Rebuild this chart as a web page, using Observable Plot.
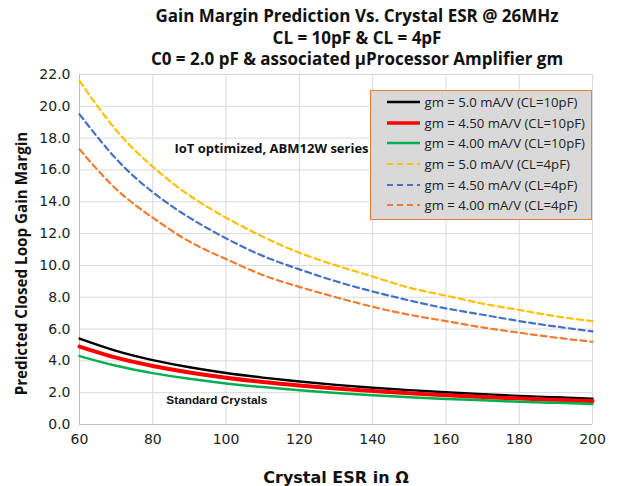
<!DOCTYPE html>
<html>
<head>
<meta charset="utf-8">
<script src="https://cdn.jsdelivr.net/npm/d3@7"></script>
<script src="https://cdn.jsdelivr.net/npm/@observablehq/plot@0.6"></script>
<style>
  body { margin: 0; background: #fff; font-family: "Open Sans", sans-serif; }
  #wrap { position: relative; width: 617px; height: 486px; overflow: hidden; }
  #title { height: 64px; margin-left: 97px; width: 520px; text-align: center; font-weight: bold; font-size: 17px; line-height: 21.5px; padding-top: 5px; box-sizing: border-box; color: #111; white-space: nowrap; }
  #legend { position: absolute; left: 370px; top: 90px; width: 222px; height: 130px; box-sizing: border-box; background: #d9d9d9; border: 1.5px solid #ed7d31; padding-top: 1px; }
  .row { height: 20.6px; display: flex; align-items: center; font-size: 13.2px; color: #222; white-space: nowrap; }
  .row svg { margin-left: 15.5px; margin-right: 5px; flex: none; }
</style>
</head>
<body>
<div id="wrap">
  <div id="title"></div>
  <div id="chart"></div>
  <div id="legend"></div>
</div>
<script>
const titleLines = [
  "Gain Margin Prediction Vs. Crystal ESR @ 26MHz",
  "CL = 10pF & CL = 4pF",
  "C0 = 2.0 pF & associated µProcessor Amplifier gm"
];
const xTicks = [60, 80, 100, 120, 140, 160, 180, 200];
const yTicks = [0, 2, 4, 6, 8, 10, 12, 14, 16, 18, 20, 22];
const esr = [60, 70, 80, 90, 100, 110, 120, 130, 140, 150, 160, 170, 180, 190, 200];

const gm50_10 = [5.4, 4.63, 4.05, 3.6, 3.24, 2.95, 2.7, 2.49, 2.31, 2.16, 2.03, 1.91, 1.8, 1.71, 1.62];
const gm45_10 = [4.9, 4.2, 3.68, 3.27, 2.94, 2.67, 2.45, 2.26, 2.1, 1.96, 1.84, 1.73, 1.63, 1.55, 1.47];
const gm40_10 = [4.3, 3.69, 3.23, 2.87, 2.58, 2.35, 2.15, 1.98, 1.84, 1.72, 1.61, 1.52, 1.43, 1.36, 1.29];
const gm50_4 = [21.6, 18.5, 16.2, 14.4, 13.0, 11.8, 10.8, 10.0, 9.3, 8.6, 8.1, 7.6, 7.2, 6.8, 6.5];
const gm45_4 = [19.5, 16.7, 14.6, 13.0, 11.7, 10.6, 9.75, 9.0, 8.36, 7.8, 7.3, 6.9, 6.5, 6.16, 5.85];
const gm40_4 = [17.3, 14.8, 13.0, 11.5, 10.4, 9.4, 8.65, 8.0, 7.4, 6.9, 6.5, 6.1, 5.77, 5.46, 5.2];

const seriesNames = [
  "gm = 5.0 mA/V (CL=10pF)",
  "gm = 4.50 mA/V (CL=10pF)",
  "gm = 4.00 mA/V (CL=10pF)",
  "gm = 5.0 mA/V (CL=4pF)",
  "gm = 4.50 mA/V (CL=4pF)",
  "gm = 4.00 mA/V (CL=4pF)"
];
const seriesValues = [gm50_10, gm45_10, gm40_10, gm50_4, gm45_4, gm40_4];
const seriesColors = ["#000000", "#ff0000", "#00b050", "#ffc000", "#4472c4", "#ed7d31"];
const seriesWidths = [2.4, 4, 2.5, 2.2, 2.2, 2.2];
const seriesDash = [null, null, null, "6,4", "6,4", "6,4"];

const iotNote = [{x: 85.9, y: 17.35, text: "IoT optimized, ABM12W series"}];
const stdNote = [{x: 83.7, y: 1.5, text: "Standard Crystals"}];
const xLabel = "Crystal ESR in Ω";
const yLabel = "Predicted Closed Loop Gain Margin";

document.getElementById("title").innerHTML = titleLines.join("<br>");

const lineMarks = seriesNames.map((name, i) => {
  const rows = esr.map((e, j) => ({esr: e, gm: seriesValues[i][j]}));
  return Plot.line(rows, {
    x: "esr", y: "gm", curve: "natural",
    stroke: seriesColors[i], strokeWidth: seriesWidths[i],
    strokeDasharray: seriesDash[i] || undefined
  });
});

const chart = Plot.plot({
  width: 617, height: 422,
  marginLeft: 79, marginRight: 25, marginTop: 10, marginBottom: 62,
  style: {fontFamily: "DejaVu Sans, sans-serif", fontSize: "14px", color: "#222", background: "transparent"},
  x: {domain: [60, 200]},
  y: {domain: [0, 22]},
  marks: [
    Plot.gridX(xTicks, {stroke: "#d9d9d9", strokeOpacity: 1}),
    Plot.gridY(yTicks, {stroke: "#d9d9d9", strokeOpacity: 1}),
    Plot.ruleX([60], {stroke: "#bfbfbf"}),
    Plot.ruleY([0], {stroke: "#bfbfbf"}),
    Plot.axisX(xTicks, {tickSize: 0, tickPadding: 10, label: null, fontSize: 14}),
    Plot.axisY(yTicks, {tickSize: 0, tickPadding: 9, label: null, tickFormat: d => d.toFixed(1), fontSize: 14}),
    ...lineMarks,
    Plot.text(iotNote, {x: "x", y: "y", text: "text", textAnchor: "start", fontWeight: "bold", fontSize: 13, fontFamily: "Open Sans, sans-serif", fill: "#111"}),
    Plot.text(stdNote, {x: "x", y: "y", text: "text", textAnchor: "start", fontWeight: "bold", fontSize: 11.8, fontFamily: "Liberation Sans, Arial, sans-serif", fill: "#111"}),
    Plot.text([xLabel], {frameAnchor: "bottom", dy: 58, fontWeight: "bold", fontSize: 16, fill: "#111"}),
    Plot.text([yLabel], {frameAnchor: "left", textAnchor: "middle", dx: -57, dy: 14, rotate: -90, fontWeight: "bold", fontSize: 15.2, fontFamily: "Open Sans, sans-serif", fill: "#111"})
  ]
});
document.getElementById("chart").appendChild(chart);

const legend = document.getElementById("legend");
seriesNames.forEach((name, i) => {
  const row = document.createElement("div");
  row.className = "row";
  row.innerHTML = `<svg width="33" height="6"><line x1="0" x2="33" y1="3" y2="3" stroke="${seriesColors[i]}" stroke-width="${Math.min(seriesWidths[i], 3.5)}" ${seriesDash[i] ? `stroke-dasharray="${seriesDash[i]}"` : ""}/></svg><span>${name}</span>`;
  legend.appendChild(row);
});
</script>
</body>
</html>
